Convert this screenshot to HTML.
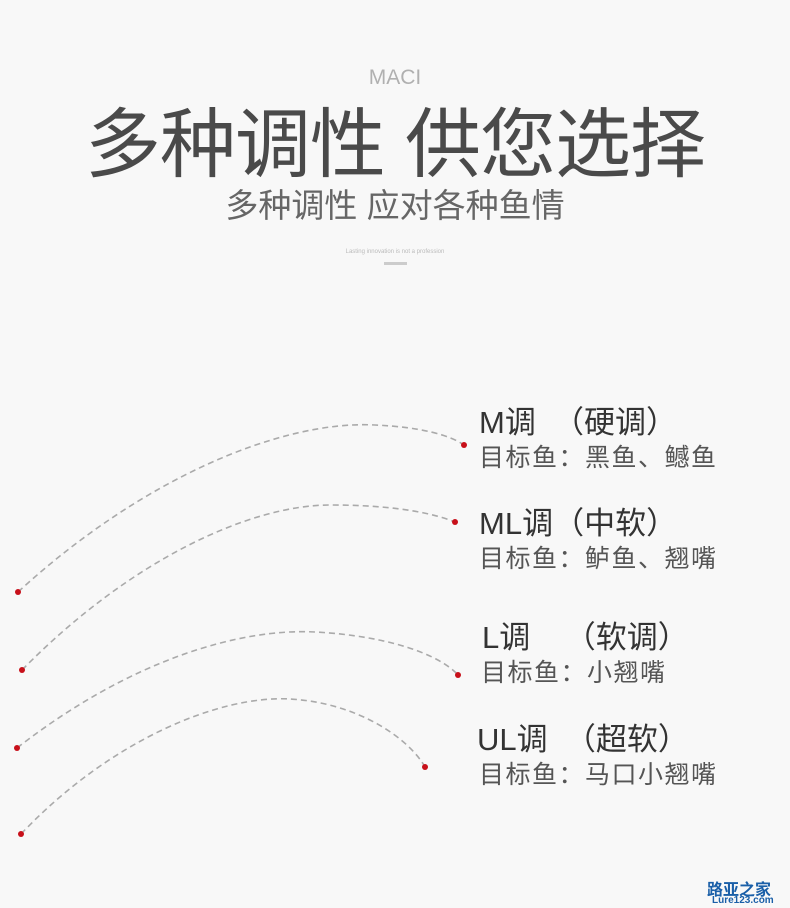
<!DOCTYPE html>
<html><head><meta charset="utf-8"><style>
html,body{margin:0;padding:0}
body{width:790px;height:908px;background:#f8f8f8;position:relative;overflow:hidden;font-family:"Liberation Sans","Noto Sans CJK SC",sans-serif;}
.t{position:absolute;white-space:nowrap}
.h{font-size:31px;color:#333}
.s{font-size:25px;color:#555;letter-spacing:1.5px}
</style></head><body>
<div class="t" style="left:0;width:790px;text-align:center;top:66px;font-size:21px;color:#b0b0b0">MACI</div>
<div class="t" style="left:0;width:790px;text-align:center;top:96px;font-size:76px;color:#4a4a4a;line-height:100px;letter-spacing:-1px">多种调性 供您选择</div>
<div class="t" style="left:0;width:790px;text-align:center;top:184px;font-size:33px;color:#666;line-height:44px">多种调性 应对各种鱼情</div>
<div class="t" style="left:0;width:790px;text-align:center;top:249px;font-size:6px;color:#bbb">Lasting innovation is not a profession</div>
<div style="position:absolute;left:384px;top:262px;width:23px;height:3px;background:#ccc"></div>
<svg width="790" height="908" style="position:absolute;left:0;top:0">
<g fill="none" stroke="#aaa" stroke-width="1.6" stroke-dasharray="6,4">
<path d="M18,592 C140,480 280,420 375,425 C420,427 450,435 464,445"/>
<path d="M22,670 C130,560 250,505 330,505 C390,505 430,512 455,522"/>
<path d="M17,748 C130,660 240,628 315,632 C390,636 440,655 458,675"/>
<path d="M21,834 C110,740 220,695 290,699 C360,703 410,740 425,767"/>
</g>
<g fill="#c8101a">
<circle cx="18" cy="592" r="3"/><circle cx="464" cy="445" r="3"/>
<circle cx="22" cy="670" r="3"/><circle cx="455" cy="522" r="3"/>
<circle cx="17" cy="748" r="3"/><circle cx="458" cy="675" r="3"/>
<circle cx="21" cy="834" r="3"/><circle cx="425" cy="767" r="3"/>
</g>
</svg>
<div class="t h" style="left:479px;top:397px">M调&nbsp;&nbsp;（硬调）</div>
<div class="t s" style="left:479px;top:438px">目标鱼：黑鱼、鳡鱼</div>
<div class="t h" style="left:479px;top:498px">ML调（中软）</div>
<div class="t s" style="left:479px;top:539px">目标鱼：鲈鱼、翘嘴</div>
<div class="t h" style="left:482px;top:612px">L调&nbsp;&nbsp;&nbsp;&nbsp;（软调）</div>
<div class="t s" style="left:481px;top:653px">目标鱼：小翘嘴</div>
<div class="t h" style="left:477px;top:714px">UL调&nbsp;&nbsp;（超软）</div>
<div class="t s" style="left:479px;top:755px">目标鱼：马口小翘嘴</div>
<div class="t" style="left:707px;top:876px;font-size:16px;font-weight:bold;color:#1a5fa8">路亚之家</div>
<div class="t" style="left:712px;top:895px;font-size:10px;font-weight:bold;color:#1a5fa8">Lure123.com</div>
</body></html>
